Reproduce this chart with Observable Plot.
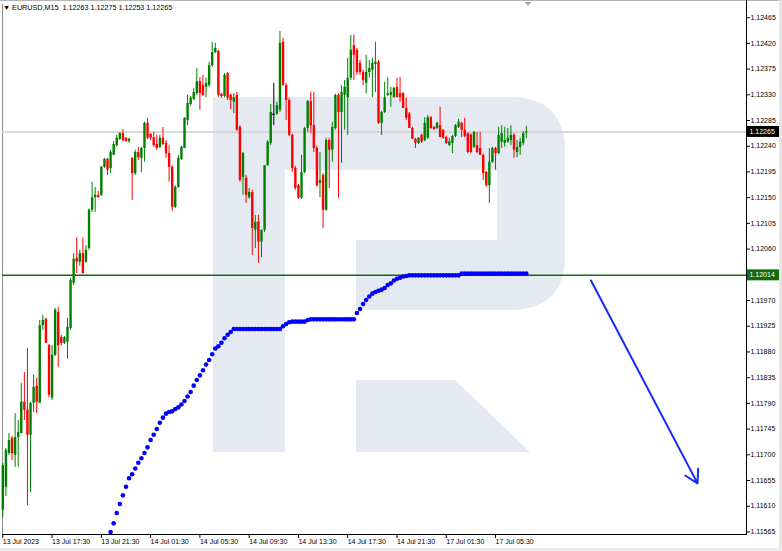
<!DOCTYPE html>
<html><head><meta charset="utf-8">
<script src="https://cdn.jsdelivr.net/npm/d3@7"></script>
<script src="https://cdn.jsdelivr.net/npm/@observablehq/plot@0.6"></script>
<style>
body{margin:0;background:#fff;}
#wrap{position:relative;width:782px;height:551px;overflow:hidden;background:#fff;font-family:"Liberation Sans",Arial,sans-serif;}
#bg,#chart{position:absolute;left:0;top:0;}
#title{position:absolute;left:3px;top:3px;font-size:7.2px;line-height:9px;white-space:pre;color:#000;}
</style></head><body>
<div id="wrap">
<svg id="bg" width="782" height="551">
  <path d="M213,97 H510 Q565,97 565,152 V255 Q565,310 510,310 H356 V240 H497 V170 H285 V452 H213 Z" fill="#e4e9f2"/>
  <path d="M356,380 H455 L530,452 H356 Z" fill="#e4e9f2"/>
  <rect x="0" y="0" width="782" height="1" fill="#b4b4b4"/>
  <rect x="779" y="0" width="3" height="551" fill="#e6e6e6"/>
  <rect x="0" y="548" width="782" height="3" fill="#ececec"/>
  <line x1="2.5" y1="4" x2="2.5" y2="534" stroke="#8c8c8c" stroke-width="1"/>
  <line x1="746.5" y1="0" x2="746.5" y2="534.5" stroke="#000" stroke-width="1"/>
  <line x1="2" y1="534.5" x2="747" y2="534.5" stroke="#000" stroke-width="1"/>
  <polygon points="524.5,2 531.5,2 528,6" fill="#a8a8a8"/>
</svg>
<div id="chart"></div>
<div id="title"></div>
</div>
<script>
const symbol = "EURUSD,M15";
const open = [
1.11603,1.11643,1.11702,1.11729,1.11699,1.11730,1.11737,1.11792,1.11778,1.11734,
1.11790,1.11820,1.11790,1.11926,1.11937,1.11891,1.11799,1.11874,1.11949,1.11905,
1.11895,1.11897,1.11921,1.12000,1.12044,1.12037,1.12052,1.12037,1.12061,1.12128,
1.12150,1.12154,1.12154,1.12203,1.12217,1.12201,1.12224,1.12241,1.12252,1.12262,
1.12254,1.12248,1.12219,1.12192,1.12229,1.12219,1.12236,1.12280,1.12261,1.12255,
1.12243,1.12238,1.12254,1.12245,1.12227,1.12203,1.12133,1.12168,1.12217,1.12236,
1.12285,1.12313,1.12322,1.12332,1.12353,1.12346,1.12343,1.12346,1.12381,1.12404,
1.12406,1.12331,1.12327,1.12367,1.12329,1.12317,1.12329,1.12273,1.12185,1.12184,
1.12150,1.12159,1.12093,1.12107,1.12072,1.12093,1.12206,1.12245,1.12296,1.12296,
1.12303,1.12422,1.12346,1.12320,1.12259,1.12201,1.12171,1.12149,1.12194,1.12271,
1.12318,1.12276,1.12236,1.12175,1.12189,1.12128,1.12250,1.12233,1.12271,1.12329,
1.12299,1.12329,1.12325,1.12359,1.12416,1.12408,1.12385,1.12369,1.12350,1.12369,
1.12373,1.12383,1.12387,1.12280,1.12299,1.12329,1.12329,1.12325,1.12343,1.12332,
1.12332,1.12306,1.12296,1.12271,1.12252,1.12245,1.12259,1.12250,1.12254,1.12290,
1.12273,1.12271,1.12276,1.12268,1.12255,1.12241,1.12245,1.12257,1.12273,1.12280,
1.12268,1.12262,1.12259,1.12238,1.12241,1.12236,1.12224,1.12194,1.12171,1.12212,
1.12236,1.12227,1.12247,1.12245,1.12247,1.12250,1.12259,1.12229,1.12238,1.12245,
1.12263];
const high = [
1.11685,1.11711,1.11737,1.11732,1.11772,1.11760,1.11825,1.11844,1.11886,1.11792,
1.11839,1.11834,1.11935,1.11944,1.11939,1.11893,1.11891,1.11956,1.11958,1.11909,
1.11907,1.11939,1.12009,1.12052,1.12080,1.12058,1.12079,1.12066,1.12130,1.12177,
1.12168,1.12161,1.12205,1.12219,1.12219,1.12233,1.12248,1.12259,1.12264,1.12269,
1.12255,1.12254,1.12219,1.12233,1.12238,1.12238,1.12282,1.12289,1.12262,1.12264,
1.12259,1.12259,1.12273,1.12250,1.12241,1.12206,1.12171,1.12224,1.12240,1.12290,
1.12329,1.12327,1.12341,1.12376,1.12360,1.12364,1.12359,1.12387,1.12422,1.12420,
1.12408,1.12332,1.12367,1.12369,1.12331,1.12332,1.12334,1.12276,1.12229,1.12189,
1.12166,1.12163,1.12119,1.12119,1.12093,1.12206,1.12250,1.12313,1.12350,1.12317,
1.12441,1.12429,1.12350,1.12324,1.12261,1.12205,1.12173,1.12224,1.12273,1.12320,
1.12334,1.12334,1.12240,1.12229,1.12192,1.12254,1.12254,1.12282,1.12331,1.12332,
1.12346,1.12355,1.12394,1.12434,1.12434,1.12411,1.12390,1.12373,1.12399,1.12390,
1.12394,1.12422,1.12390,1.12301,1.12352,1.12360,1.12343,1.12343,1.12359,1.12360,
1.12334,1.12324,1.12299,1.12273,1.12254,1.12255,1.12261,1.12290,1.12294,1.12292,
1.12275,1.12282,1.12308,1.12269,1.12257,1.12254,1.12259,1.12278,1.12287,1.12282,
1.12289,1.12264,1.12262,1.12266,1.12264,1.12264,1.12226,1.12196,1.12236,1.12238,
1.12238,1.12273,1.12276,1.12273,1.12271,1.12276,1.12262,1.12250,1.12254,1.12266,
1.12275];
const low = [
1.11590,1.11627,1.11699,1.11690,1.11678,1.11678,1.11737,1.11760,1.11611,1.11634,
1.11774,1.11772,1.11790,1.11918,1.11895,1.11800,1.11795,1.11872,1.11853,1.11891,
1.11893,1.11867,1.11918,1.11996,1.12017,1.12030,1.12016,1.12035,1.12058,1.12124,
1.12124,1.12149,1.12152,1.12201,1.12189,1.12192,1.12224,1.12238,1.12250,1.12247,
1.12247,1.12245,1.12145,1.12189,1.12215,1.12194,1.12212,1.12252,1.12250,1.12238,
1.12233,1.12236,1.12241,1.12219,1.12177,1.12126,1.12131,1.12166,1.12215,1.12236,
1.12276,1.12310,1.12320,1.12329,1.12303,1.12327,1.12325,1.12343,1.12378,1.12402,
1.12325,1.12324,1.12325,1.12320,1.12304,1.12297,1.12266,1.12177,1.12154,1.12140,
1.12147,1.12049,1.12061,1.12035,1.12045,1.12089,1.12205,1.12241,1.12276,1.12294,
1.12299,1.12345,1.12285,1.12257,1.12194,1.12163,1.12147,1.12147,1.12192,1.12264,
1.12262,1.12229,1.12168,1.12150,1.12096,1.12126,1.12166,1.12212,1.12268,1.12149,
1.12210,1.12268,1.12259,1.12355,1.12355,1.12364,1.12364,1.12346,1.12332,1.12359,
1.12325,1.12334,1.12278,1.12259,1.12297,1.12327,1.12308,1.12324,1.12325,1.12317,
1.12306,1.12285,1.12271,1.12252,1.12236,1.12243,1.12245,1.12248,1.12252,1.12269,
1.12268,1.12269,1.12255,1.12252,1.12243,1.12240,1.12227,1.12255,1.12271,1.12255,
1.12255,1.12227,1.12227,1.12236,1.12227,1.12224,1.12180,1.12168,1.12140,1.12210,
1.12198,1.12226,1.12236,1.12238,1.12245,1.12241,1.12219,1.12220,1.12224,1.12241,
1.12253];
const close = [
1.11681,1.11708,1.11725,1.11702,1.11730,1.11739,1.11792,1.11778,1.11734,1.11790,
1.11818,1.11792,1.11926,1.11935,1.11895,1.11804,1.11874,1.11953,1.11891,1.11895,
1.11905,1.11923,1.12005,1.12042,1.12037,1.12052,1.12017,1.12058,1.12128,1.12150,
1.12154,1.12150,1.12203,1.12217,1.12198,1.12229,1.12243,1.12254,1.12262,1.12250,
1.12248,1.12252,1.12192,1.12229,1.12220,1.12236,1.12280,1.12254,1.12254,1.12241,
1.12236,1.12254,1.12243,1.12227,1.12203,1.12133,1.12168,1.12219,1.12238,1.12289,
1.12315,1.12324,1.12334,1.12353,1.12332,1.12329,1.12350,1.12381,1.12404,1.12411,
1.12329,1.12327,1.12364,1.12324,1.12320,1.12325,1.12268,1.12180,1.12227,1.12154,
1.12159,1.12096,1.12107,1.12072,1.12093,1.12206,1.12247,1.12299,1.12296,1.12311,
1.12420,1.12346,1.12320,1.12259,1.12201,1.12166,1.12149,1.12194,1.12271,1.12318,
1.12276,1.12236,1.12171,1.12180,1.12128,1.12250,1.12233,1.12273,1.12329,1.12299,
1.12334,1.12343,1.12359,1.12408,1.12399,1.12369,1.12369,1.12355,1.12369,1.12376,
1.12385,1.12387,1.12280,1.12299,1.12325,1.12332,1.12334,1.12341,1.12325,1.12325,
1.12306,1.12289,1.12271,1.12252,1.12245,1.12254,1.12247,1.12280,1.12290,1.12271,
1.12269,1.12280,1.12255,1.12254,1.12245,1.12248,1.12257,1.12276,1.12282,1.12268,
1.12257,1.12229,1.12229,1.12264,1.12229,1.12224,1.12192,1.12171,1.12212,1.12236,
1.12227,1.12259,1.12262,1.12250,1.12254,1.12259,1.12233,1.12238,1.12247,1.12262,
1.12265];

// blue dotted indicator, first value at bar 35
const avgStartBar = 35;
const avgLine = [
1.11565,1.11580,1.11598,1.11614,1.11629,1.11644,1.11659,1.11666,1.11676,1.11686,
1.11694,1.11703,1.11713,1.11726,1.11735,1.11745,1.11756,1.11765,1.11772,1.11775,
1.11776,1.11780,1.11783,1.11788,1.11794,1.11802,1.11810,1.11821,1.11831,1.11839,
1.11848,1.11858,1.11866,1.11876,1.11886,1.11890,1.11896,1.11904,1.11910,1.11915,
1.11920,1.11920,1.11920,1.11920,1.11920,1.11920,1.11920,1.11920,
1.11920,1.11920,1.11920,1.11920,1.11920,1.11920,1.11920,1.11920,
1.11925,1.11929,1.11932,
1.11933,1.11933,1.11933,1.11933,1.11933,
1.11936,
1.11937,1.11937,1.11937,1.11937,1.11937,1.11937,1.11937,1.11937,
1.11937,1.11937,1.11937,1.11937,1.11937,1.11937,1.11937,
1.11948,1.11955,1.11964,1.11971,1.11977,1.11982,1.11985,1.11987,1.11989,1.11992,
1.11997,1.12000,1.12005,1.12008,1.12010,1.12012,1.12013,
1.12014,1.12014,1.12014,1.12014,1.12014,1.12014,1.12014,1.12014,1.12014,
1.12014,1.12014,1.12014,1.12014,1.12014,1.12014,1.12014,1.12014,
1.12017,1.12017,1.12017,1.12017,1.12017,1.12017,1.12017,1.12017,1.12017,1.12017,1.12017,
1.12017,1.12017,1.12017,1.12017,1.12017,1.12017,1.12017,1.12017,1.12017,1.12017,1.12017];

const levelPrice = 1.12014;
const forecastBars = [191, 225.6];
const forecastPrices = [1.12005, 1.11650];

const xTickBars = [0, 16, 32, 48, 64, 80, 96, 112, 128, 144, 160];
const xTickLabels = ["13 Jul 2023","13 Jul 17:30","13 Jul 21:30","14 Jul 01:30","14 Jul 05:30","14 Jul 09:30","14 Jul 13:30","14 Jul 17:30","14 Jul 21:30","17 Jul 01:30","17 Jul 05:30"];
const yTickLabels = ["1.11565","1.11610","1.11655","1.11700","1.11745","1.11790","1.11835","1.11880","1.11925","1.11970","1.12060","1.12105","1.12150","1.12195","1.12240","1.12285","1.12330","1.12375","1.12420","1.12465"];

const bull = "#008000", bear = "#ff0000", doji = "#000000";
const levelColor = "#0e6e0e", dotColor = "#0000ff", arrowColor = "#1428ff";

const bars = open.map((o, i) => ({i, open: o, high: high[i], low: low[i], close: close[i]}));
const col = d => d.close > d.open ? bull : d.close < d.open ? bear : doji;
const dots = avgLine.map((v, k) => ({i: avgStartBar + k, v}));
const forecast = [{x1: forecastBars[0], x2: forecastBars[1], y1: forecastPrices[0], y2: forecastPrices[1]}];
const yTicks = yTickLabels.map(Number);
const last = bars[bars.length - 1];

const plot = Plot.plot({
  width: 782, height: 551,
  marginTop: 4, marginBottom: 17, marginLeft: 2, marginRight: 36,
  x: {type: "linear", domain: [-0.1, 241.5], axis: null},
  y: {type: "linear", domain: [1.115605, 1.12488], axis: null},
  style: {background: "transparent", fontFamily: "Liberation Sans, Arial, sans-serif", fontSize: "7px", color: "#000", overflow: "visible"},
  marks: [
    Plot.ruleY([last.close], {stroke: "#cfcfcf", strokeWidth: 1.5}),
    Plot.ruleX(bars, {x: "i", y1: "low", y2: "high", stroke: col, strokeWidth: 1}),
    Plot.ruleX(bars.filter(d => d.open !== d.close), {x: "i", y1: "open", y2: "close", stroke: col, strokeWidth: 2.4}),
    Plot.ruleY(bars.filter(d => d.open === d.close), {y: "open", x1: d => d.i - 0.45, x2: d => d.i + 0.45, stroke: doji}),
    Plot.ruleY([levelPrice], {stroke: levelColor, strokeWidth: 1.5}),
    Plot.dot(dots, {x: "i", y: "v", r: 2.3, fill: dotColor, stroke: null}),
    Plot.arrow(forecast, {x1: "x1", y1: "y1", x2: "x2", y2: "y2", stroke: arrowColor, strokeWidth: 2, headLength: 11}),
    Plot.axisX({ticks: xTickBars, tickFormat: d => xTickLabels[xTickBars.indexOf(d)], tickSize: 4, tickPadding: 1, textAnchor: "start", fontSize: 7, label: null, stroke: "#000"}),
    Plot.axisY({anchor: "right", ticks: yTicks, tickFormat: d => yTickLabels[yTicks.indexOf(d)], tickSize: 3, tickPadding: 1, fontSize: 7, label: null})
  ]
});
document.getElementById("chart").appendChild(plot);

// price labels on the right axis, positioned with the plot's y scale
const ys = plot.scale("y");
const svg = d3.select(plot);
const tags = [{v: last.close, bg: "#000"}, {v: levelPrice, bg: levelColor}];
for (const t of tags) {
  const y = ys.apply(t.v);
  svg.append("rect").attr("x", 747).attr("y", y - 5.5).attr("width", 32).attr("height", 11).attr("fill", t.bg);
  svg.append("text").attr("x", 749.5).attr("y", y).attr("dy", "0.35em").attr("fill", "#fff")
    .attr("text-anchor", "start")
    .attr("font-size", 7).attr("font-family", "Liberation Sans, Arial, sans-serif").text(t.v.toFixed(5));
}

document.getElementById("title").textContent =
  "\u25BC " + symbol + "  " + [last.open, last.high, last.low, last.close].map(v => v.toFixed(5)).join(" ");
</script>
</body></html>
